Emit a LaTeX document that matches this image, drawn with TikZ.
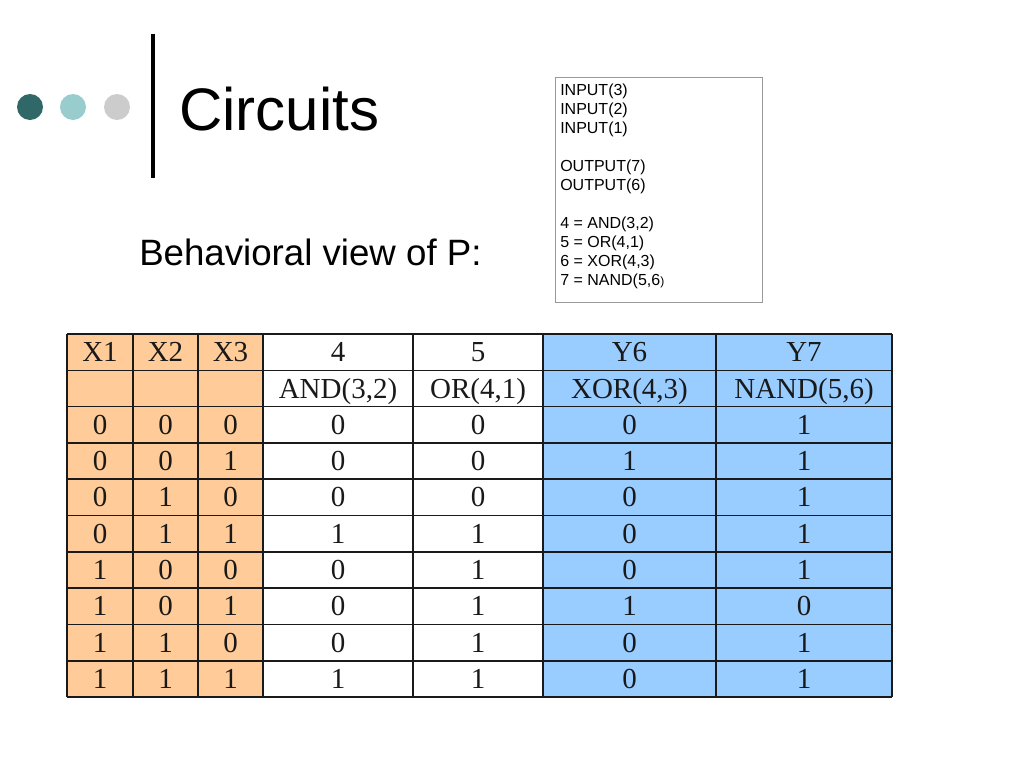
\documentclass[tikz,border=0pt]{standalone}
\usepackage{fontspec}
\setmainfont{Liberation Sans}
\newfontfamily\tablefont{Liberation Serif}

\definecolor{dotdark}{HTML}{306868}
\definecolor{dotmid}{HTML}{99CCCC}
\definecolor{dotgray}{HTML}{CCCCCC}
\definecolor{inputfill}{HTML}{FFCC99}
\definecolor{outputfill}{HTML}{99CCFF}
\definecolor{gridline}{HTML}{1A1A1A}

\begin{document}
\begin{tikzpicture}[
            x=0.75pt, y=-0.75pt,
            bullet/.style={circle, minimum size=19.5pt, inner sep=0pt},
            listbox/.style={draw=gray!80, line width=0.6pt, minimum width=155.25pt, minimum height=168.75pt, inner sep=0pt},
            gridline/.style={draw=gridline, line width=1.2pt},
            cell/.style={font=\tablefont\fontsize{21.75}{26}\selectfont, text=black!90, inner sep=0pt, text height=14.4pt, text depth=0pt, anchor=center}
        ]
            \useasboundingbox (0,0) rectangle (1024,768);
            % bullets and bar
            \node[bullet, fill=dotdark] (dot1) at (30,107) {};
            \node[bullet, fill=dotmid] (dot2) at (73,107) {};
            \node[bullet, fill=dotgray] (dot3) at (117,107) {};
            \draw[line width=3pt] (153,34) -- (153,178);
            % title
            \node[anchor=base west, inner sep=0pt, font=\fontsize{45}{54}\selectfont] (title) at (179,130) {Circuits};
            \node[anchor=base west, inner sep=0pt, font=\fontsize{27.5}{33}\selectfont] (subtitle) at (139,265) {Behavioral view of P:};
            % netlist
            \node[listbox] (netlist) at (658.5,189.5) {};
            \node[anchor=north west, inner sep=0pt, align=left, font=\fontsize{12}{14.25}\selectfont] (nettext) at (560,84) {INPUT(3)\\INPUT(2)\\INPUT(1)\\[14.25pt]OUTPUT(7)\\OUTPUT(6)\\[14.25pt]4 = AND(3,2)\\5 = OR(4,1)\\6 = XOR(4,3)\\7 = NAND(5,6{\fontsize{9}{10}\selectfont)}};
            % table fill
            \fill[inputfill] (67,334) rectangle (263,697);
            \fill[outputfill] (543,334) rectangle (892,697);
            % grid
            \foreach \x in {67,133,198,263,413,543,716,892}
                \draw[gridline] (\x,334) -- (\x,697);
            \foreach \i in {0,...,10}
                \draw[gridline] (67,{334+36.3*\i}) -- (892,{334+36.3*\i});
            % cells
            \foreach \x [count=\c] in {100,165.5,230.5,338,478,629.5,804}
                \coordinate (col\c) at (\x,0);
            \foreach \row [count=\r] in {
                    {X1,X2,X3,4,5,Y6,Y7},
                    {{},{},{},{AND(3,2)},{OR(4,1)},{XOR(4,3)},{NAND(5,6)}},
                    {0,0,0,0,0,0,1},
                    {0,0,1,0,0,1,1},
                    {0,1,0,0,0,0,1},
                    {0,1,1,1,1,0,1},
                    {1,0,0,0,1,0,1},
                    {1,0,1,0,1,1,0},
                    {1,1,0,0,1,0,1},
                    {1,1,1,1,1,0,1}} {
                \coordinate (row\r) at (0,{334+36.3*(\r-0.5)});
                \foreach \v [count=\c] in \row
                    \node[cell] (cell-\r-\c) at (col\c |- row\r) {\v};
            }
        \end{tikzpicture}
\end{document}
